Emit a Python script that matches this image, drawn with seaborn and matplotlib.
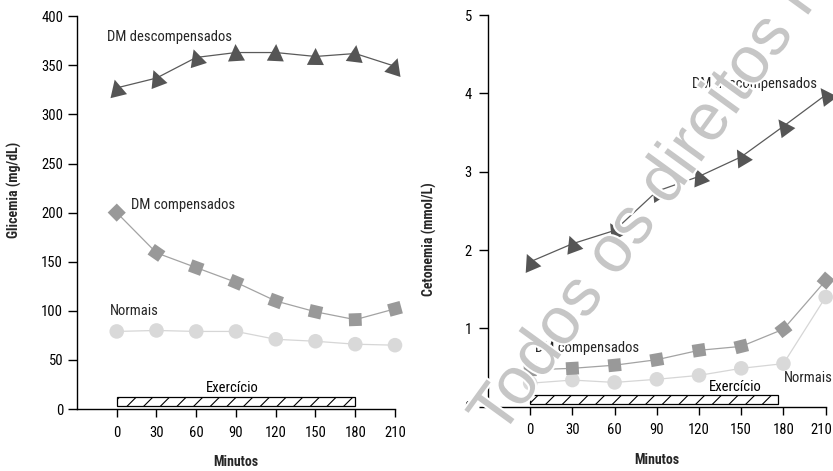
import matplotlib
matplotlib.use("Agg")
import matplotlib.pyplot as plt
import numpy as np
import pandas as pd
import seaborn as sns
from matplotlib import font_manager
from matplotlib.markers import MarkerStyle
from matplotlib.transforms import Affine2D, ScaledTranslation
from matplotlib.patches import Rectangle
import matplotlib.patheffects as pe

# ---------------- data ----------------
minutes = [0, 30, 60, 90, 120, 150, 180, 210]
xticks = [0, 30, 60, 90, 120, 150, 180, 210]

glic_desc = [327, 337, 358, 363, 363, 359, 362, 349]
glic_comp = [200, 159, 144, 129, 110, 99, 91, 102]
glic_norm = [79, 80, 79, 79, 71, 69, 66, 65]
glic_yticks = [0, 50, 100, 150, 200, 250, 300, 350, 400]

ceto_desc = [1.85, 2.08, 2.25, 2.75, 2.94, 3.19, 3.58, 3.98]
ceto_comp = [0.47, 0.49, 0.53, 0.60, 0.72, 0.77, 0.99, 1.61]
ceto_norm = [0.30, 0.34, 0.31, 0.35, 0.40, 0.49, 0.55, 1.40]
ceto_yticks = [0, 1, 2, 3, 4, 5]

series_names = ["DM descompensados", "DM compensados", "Normais"]
exercise_label = "Exercício"
glic_exercise = [0, 180, 3, 12]      # x0, x1, y0, y1
ceto_exercise = [0, 176, 0.04, 0.15]
watermark = "Todos os direitos r"

# ---------------- style ----------------
sns.set_theme(style="white")
avail = {f.name for f in font_manager.fontManager.ttflist}
cands = ["Liberation Sans Narrow", "DejaVu Sans Condensed", "Roboto Condensed",
         "Open Sans Condensed", "Liberation Sans"]
main_font = next((c for c in cands if c in avail), "DejaVu Sans")
plt.rcParams["font.family"] = [main_font, "DejaVu Sans"]
plt.rcParams["hatch.linewidth"] = 0.8
plt.rcParams["axes.linewidth"] = 1.0

FS = 10
C_DESC, C_DESC_L = "#555555", "#5a5a5a"
C_COMP, C_COMP_L = "#999999", "#a3a3a3"
C_NORM, C_NORM_L = "#d9d9d9", "#d6d6d6"

fig = plt.figure(figsize=(8.33, 4.71), dpi=100)
axL = fig.add_axes([0.0924, 0.1316, 0.3818, 0.834])
axR = fig.add_axes([0.5858, 0.1365, 0.4054, 0.8316])


def setup(ax, ylim, yticks, ypad):
    ax.set_xlim(-30, 210)
    ax.set_ylim(*ylim)
    ax.set_xticks(xticks)
    ax.set_xticklabels([str(t) for t in xticks])
    ax.set_yticks(yticks)
    ax.set_yticklabels([str(t) for t in yticks])
    for s in ["top", "right"]:
        ax.spines[s].set_visible(False)
    for s in ["left", "bottom"]:
        ax.spines[s].set_color("black")
        ax.spines[s].set_linewidth(1.0)
    ax.spines["bottom"].set_bounds(-30, 210)
    ax.tick_params(axis="x", direction="out", length=6, width=1.0, pad=6,
                   labelsize=FS + 0.5, colors="black", bottom=True)
    ax.tick_params(axis="y", direction="out", length=6.5, width=1.0, pad=ypad,
                   labelsize=FS + 0.5, colors="black", left=True)
    ax.grid(False)


setup(axL, (0, 400), glic_yticks, 3.5)
setup(axR, (0, 5), ceto_yticks, 5)


def draw_series(ax, xs, ys, color_line, color_mark, marker, size, rotate):
    df = pd.DataFrame({"x": xs, "y": ys})
    sns.lineplot(data=df, x="x", y="y", ax=ax, color=color_line, lw=0.9,
                 zorder=2, clip_on=False, legend=False)
    pts = ax.transData.transform(np.column_stack([xs, ys]))
    n = len(xs)
    for i in range(n):
        a = max(i - 1, 0)
        b = min(i + 1, n - 1)
        d = pts[b] - pts[a]
        ang = np.degrees(np.arctan2(d[1], d[0])) if rotate else 0.0
        ms = MarkerStyle(marker, transform=Affine2D().rotate_deg(ang))
        ax.scatter([xs[i]], [ys[i]], marker=ms, s=size, color=color_mark,
                   edgecolor="none", zorder=3, clip_on=False)


for ax, yd, yc, yn in [(axL, glic_desc, glic_comp, glic_norm),
                       (axR, ceto_desc, ceto_comp, ceto_norm)]:
    draw_series(ax, minutes, yn, C_NORM_L, C_NORM, "o", 110, False)
    draw_series(ax, minutes, yc, C_COMP_L, C_COMP, "s", 85, True)
    draw_series(ax, minutes, yd, C_DESC_L, C_DESC, "^", 150, True)

# exercise bars
for ax, ex, lx, ly in [(axL, glic_exercise, 87, 14), (axR, ceto_exercise, 146, 0.165)]:
    x0, x1, y0, y1 = ex
    ax.add_patch(Rectangle((x0, y0), x1 - x0, y1 - y0, facecolor="white",
                           edgecolor="black", hatch="//", lw=0.9, zorder=4))
    ax.text(lx, ly, exercise_label, ha="center", va="bottom", fontsize=FS + 0.5,
            color="black", zorder=5)

# series labels
axL.text(-7, 379, series_names[0], fontsize=FS + 0.5, va="center", ha="left")
axL.text(11, 208, series_names[1], fontsize=FS + 0.5, va="center", ha="left")
axL.text(-5, 100, series_names[2], fontsize=FS + 0.5, va="center", ha="left")
axR.text(115, 4.12, series_names[0], fontsize=FS + 0.5, va="center", ha="left")
axR.text(3.5, 0.75, series_names[1], fontsize=FS + 0.5, va="center", ha="left")
axR.text(180, 0.37, series_names[2], fontsize=FS + 0.5, va="center", ha="left")

# axis labels (set last so seaborn does not overwrite them)
for ax, lab, pos in [(axL, "Glicemia (mg/dL)", (-0.172, 0.557)),
                     (axR, "Cetonemia (mmol/L)", (-0.152, 0.428))]:
    ax.set_xlabel("Minutos", fontsize=FS, fontweight="bold", labelpad=11)
    ax.set_ylabel(lab, fontsize=FS, fontweight="bold")
    ax.yaxis.set_label_coords(*pos)

# keep the last tick label of the right panel inside the figure
last = axR.get_xticklabels()[-1]
last.set_transform(last.get_transform() + ScaledTranslation(-4 / 100, 0, fig.dpi_scale_trans))

# watermark
fig.text(0.601, 0.07, watermark, rotation=54, rotation_mode="anchor",
         ha="left", va="baseline", fontsize=48, color="#c6c6c6",
         family=["Liberation Sans", "DejaVu Sans"], zorder=20,
         path_effects=[pe.withStroke(linewidth=3, foreground="white")])

fig.savefig("out.png", dpi=100)
